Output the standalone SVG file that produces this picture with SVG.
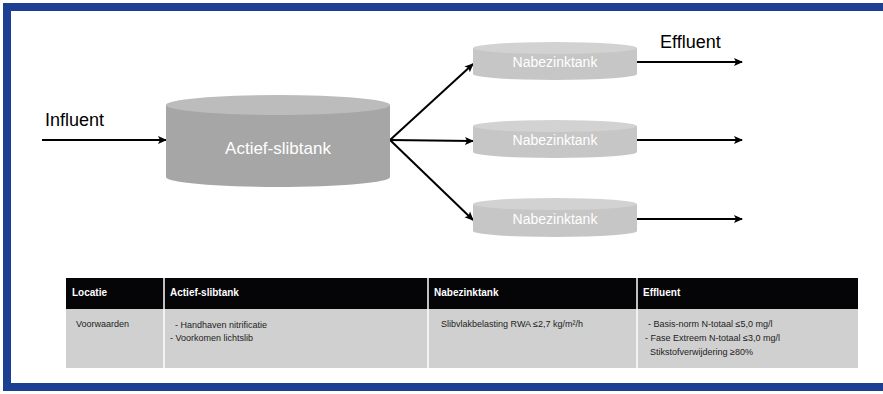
<svg xmlns="http://www.w3.org/2000/svg" width="883" height="394" viewBox="0 0 883 394">
<style>
.lbl{font-family:"Liberation Sans",Arial,sans-serif;font-size:18px;fill:#000}
.tk{font-family:"Liberation Sans",Arial,sans-serif;fill:#fff;text-anchor:middle}
.hd{font-family:"Liberation Sans",Arial,sans-serif;font-size:10px;font-weight:bold;fill:#fff}
.td{font-family:"Liberation Sans",Arial,sans-serif;font-size:9px;fill:#222}
.ar{stroke:#000;stroke-width:2;fill:none;marker-end:url(#ah)}
</style>
<defs>
<marker id="ah" markerWidth="10" markerHeight="10" refX="8" refY="5" orient="auto" markerUnits="userSpaceOnUse">
<path d="M0,1 L9,5 L0,9 L2,5 Z" fill="#000"/>
</marker>
</defs>
<rect width="883" height="394" fill="#fff"/>
<g id="frame" fill="#1c3f94">
<rect x="3" y="3" width="880" height="8"/>
<rect x="3" y="3" width="8" height="388"/>
<rect x="3" y="383" width="880" height="8"/>
</g>
<g id="connectors">
<line class="ar" x1="42" y1="140" x2="166" y2="140"/>
<line class="ar" x1="390" y1="140" x2="473" y2="64"/>
<line class="ar" x1="390" y1="140" x2="473" y2="141"/>
<line class="ar" x1="390" y1="140" x2="473" y2="220"/>
<line class="ar" x1="637" y1="62" x2="742" y2="62"/>
<line class="ar" x1="637" y1="140" x2="742" y2="140"/>
<line class="ar" x1="637" y1="219" x2="742" y2="219"/>
</g>
<g id="influent"><text class="lbl" x="45" y="126">Influent</text></g>
<g id="effluent"><text class="lbl" x="660" y="48">Effluent</text></g>
<g id="actief-slibtank">
<path d="M166,105 L166,177 A112,10 0 0 0 390,177 L390,105 Z" fill="#a6a6a6"/>
<ellipse cx="278" cy="105" rx="112" ry="10" fill="#bcbcbc"/>
<text class="tk" x="278" y="154" font-size="17">Actief-slibtank</text>
</g>
<g id="nabezinktank1">
<path d="M473,48 L473,74 A82,6 0 0 0 637,74 L637,48 Z" fill="#c6c6c6"/>
<ellipse cx="555" cy="48" rx="82" ry="6" fill="#d2d2d2"/>
<text class="tk" x="555" y="67" font-size="14">Nabezinktank</text>
</g>
<g id="nabezinktank2">
<path d="M473,126 L473,152 A82,6 0 0 0 637,152 L637,126 Z" fill="#c6c6c6"/>
<ellipse cx="555" cy="126" rx="82" ry="6" fill="#d2d2d2"/>
<text class="tk" x="555" y="145" font-size="14">Nabezinktank</text>
</g>
<g id="nabezinktank3">
<path d="M473,204 L473,231 A82,6 0 0 0 637,231 L637,204 Z" fill="#c6c6c6"/>
<ellipse cx="555" cy="204" rx="82" ry="6" fill="#d2d2d2"/>
<text class="tk" x="555" y="224" font-size="14">Nabezinktank</text>
</g>
<g id="table">
<rect x="66" y="278" width="792" height="31" fill="#050508"/>
<rect x="66" y="309" width="792" height="59" fill="#d0d0d0"/>
<g stroke="#fff" stroke-width="1.5">
<line x1="164" y1="278" x2="164" y2="368"/>
<line x1="428" y1="278" x2="428" y2="368"/>
<line x1="637" y1="278" x2="637" y2="368"/>
</g>
<text class="hd" x="72" y="296">Locatie</text>
<text class="hd" x="170" y="296">Actief-slibtank</text>
<text class="hd" x="434" y="296">Nabezinktank</text>
<text class="hd" x="643" y="296">Effluent</text>
<text class="td" x="76" y="327">Voorwaarden</text>
<text class="td" x="175" y="328">- Handhaven nitrificatie</text>
<text class="td" x="170" y="341">- Voorkomen lichtslib</text>
<text class="td" x="441" y="327">Slibvlakbelasting RWA ≤2,7 kg/m²/h</text>
<text class="td" x="648" y="327">- Basis-norm N-totaal ≤5,0 mg/l</text>
<text class="td" x="645" y="341">- Fase Extreem N-totaal ≤3,0 mg/l</text>
<text class="td" x="650" y="355">Stikstofverwijdering ≥80%</text>
</g>
</svg>
